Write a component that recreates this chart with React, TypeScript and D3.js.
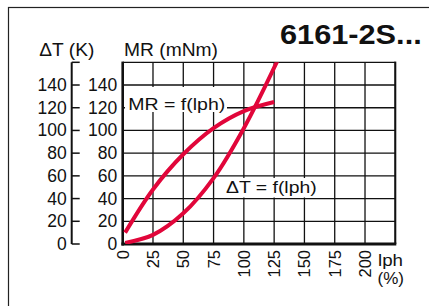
import React from "react";
import * as d3 from "d3";

const W = 429;
const H = 306;

const title = "6161-2S...";
const xTicks = [0, 25, 50, 75, 100, 125, 150, 175, 200];
const xGrid = [0, 25, 50, 75, 100, 125, 150, 175, 200, 225];
const yTicks = [0, 20, 40, 60, 80, 100, 120, 140];
const yGrid = [0, 20, 40, 60, 80, 100, 120, 140, 160];

// MR = f(lph)  [lph %, mNm]
const mrLph = [2, 25, 50, 75, 100, 125];
const mrVal = [10, 48, 79, 102, 117, 125];

// ΔT = f(lph)  [lph %, K]
const dtLph = [2, 25, 50, 75, 100, 128];
const dtVal = [1, 8, 27, 58, 102, 162];

const RED = "#e1063a";
const FONT = "'Liberation Sans', Arial, Helvetica, sans-serif";

export default function App() {
  const x = d3.scaleLinear().domain([0, 225]).range([122.7, 395.3]);
  const y = d3.scaleLinear().domain([0, 160]).range([244, 62.3]);

  const line = d3
    .line<[number, number]>()
    .x((d) => x(d[0]))
    .y((d) => y(d[1]))
    .curve(d3.curveCatmullRom.alpha(0.5));

  const mrPts = mrLph.map((v, i) => [v, mrVal[i]] as [number, number]);
  const dtPts = dtLph.map((v, i) => [v, dtVal[i]] as [number, number]);

  const x0 = x(0);
  const x1 = x(225);
  const y0 = y(0);
  const y1 = y(160);
  const dtAxisX = 71.7;

  return (
    <svg
      width={W}
      height={H}
      style={{ position: "absolute", left: 0, top: 0, background: "#fff" }}
      fontFamily={FONT}
    >
      <rect x={0} y={0} width={W} height={H} fill="#fff" />
      {/* outer frame */}
      <rect x={8.5} y={7.5} width={460} height={340} fill="none" stroke="#222" strokeWidth={1.2} />

      <defs>
        <clipPath id="plotClip">
          <rect x={x0} y={y1} width={x1 - x0} height={y0 - y1} />
        </clipPath>
      </defs>

      {/* grid */}
      {xGrid.map((v) => (
        <line key={"gx" + v} x1={x(v)} x2={x(v)} y1={y1} y2={y0} stroke="#111" strokeWidth={1.3} />
      ))}
      {yGrid.map((v) => (
        <line key={"gy" + v} x1={x0} x2={x1} y1={y(v)} y2={y(v)} stroke="#111" strokeWidth={1.3} />
      ))}
      <line x1={x1} x2={x1} y1={y1 - 0.7} y2={y0} stroke="#111" strokeWidth={2} />
      <line x1={x0} x2={x0} y1={y1 - 0.7} y2={y0 + 1.5} stroke="#111" strokeWidth={2.6} />
      <line x1={x0 - 1.3} x2={x1 + 1} y1={y0} y2={y0} stroke="#111" strokeWidth={3} />

      {/* label boxes */}
      <rect x={125} y={87} width={102} height={25} fill="#fff" />
      <rect x={224} y={178} width={95} height={19.5} fill="#fff" />

      {/* ΔT axis */}
      <line x1={dtAxisX} x2={dtAxisX} y1={y1} y2={y0} stroke="#111" strokeWidth={2} />
      {yGrid.map((v) => (
        <line key={"dtt" + v} x1={dtAxisX} x2={dtAxisX + 8} y1={y(v)} y2={y(v)} stroke="#111" strokeWidth={1.5} />
      ))}
      {yTicks.map((v) => (
        <text key={"dtl" + v} x={66.7} y={y(v) + 6} fontSize={17.5} textAnchor="end" fill="#111">
          {v}
        </text>
      ))}
      {yTicks.map((v) => (
        <text key={"mrl" + v} x={117.3} y={y(v) + 6} fontSize={17.5} textAnchor="end" fill="#111">
          {v}
        </text>
      ))}

      {/* x tick labels (rotated) */}
      {xTicks.map((v) => (
        <text
          key={"xl" + v}
          transform={`translate(${x(v) + 6},250) rotate(-90)`}
          fontSize={16.5}
          textAnchor="end"
          fill="#111"
        >
          {v}
        </text>
      ))}
      <text x={378} y={266} fontSize={17} fill="#111" textLength={25} lengthAdjust="spacingAndGlyphs">
        lph
      </text>
      <text x={377.5} y={284} fontSize={17} fill="#111">
        (%)
      </text>

      {/* axis titles */}
      <text x={39.3} y={56} fontSize={18} fill="#111" textLength={55} lengthAdjust="spacingAndGlyphs">
        ΔT (K)
      </text>
      <text x={124} y={56} fontSize={18} fill="#111" textLength={94} lengthAdjust="spacingAndGlyphs">
        MR (mNm)
      </text>

      {/* title */}
      <text
        x={280}
        y={44.3}
        fontSize={27}
        fontWeight="bold"
        fill="#111"
        textLength={141.7}
        lengthAdjust="spacingAndGlyphs"
      >
        {title}
      </text>

      {/* curve labels */}
      <text x={128.3} y={109.5} fontSize={17} fill="#111" textLength={97} lengthAdjust="spacingAndGlyphs">
        MR = f(lph)
      </text>
      <text x={226} y={193.3} fontSize={17} fill="#111" textLength={90.7} lengthAdjust="spacingAndGlyphs">
        ΔT = f(lph)
      </text>

      {/* curves */}
      <g clipPath="url(#plotClip)">
        <path d={line(mrPts) || ""} fill="none" stroke={RED} strokeWidth={4} strokeLinecap="butt" />
        <path d={line(dtPts) || ""} fill="none" stroke={RED} strokeWidth={4} strokeLinecap="butt" />
      </g>
    </svg>
  );
}
